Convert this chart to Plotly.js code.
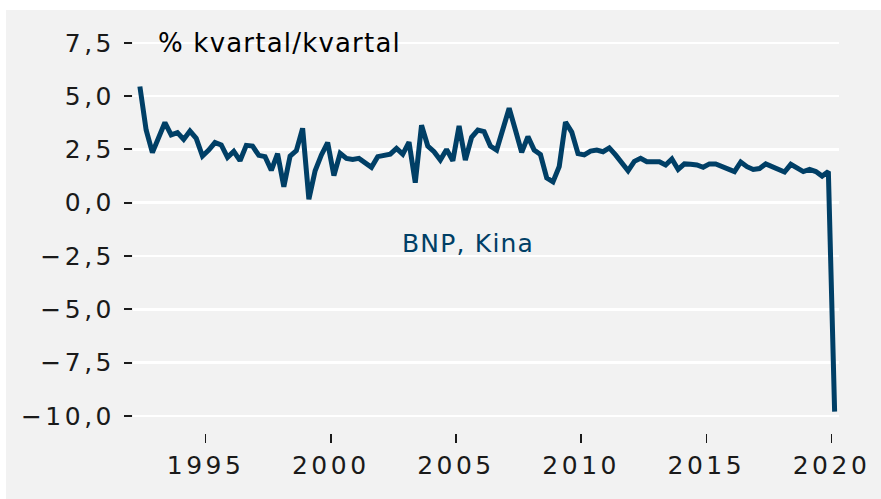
<!DOCTYPE html>
<html>
<head>
<meta charset="utf-8">
<script src="https://cdn.plot.ly/plotly-3.0.1.min.js"></script>
<style>
  html, body { margin: 0; padding: 0; background: #ffffff; width: 881px; height: 499px; overflow: hidden; }
  #chart { position: absolute; left: 6px; top: 10px; width: 875px; height: 489px; }
  .xtick text, .ytick text { letter-spacing: 3.5px; }
  .annotation-text { letter-spacing: 1.2px; }
</style>
</head>
<body>
<div id="chart"></div>
<script>
// Quarterly series: China GDP, % quarter on quarter, starting 1992 Q2
const startYear = 1992;
const startQuarter = 2;
const gdpQoQ = [
  5.45, 3.41, 2.35, 3.05, 3.76, 3.18, 3.29, 2.97, 3.36, 3.02,
  2.19, 2.47, 2.82, 2.71, 2.13, 2.41, 1.97, 2.69, 2.66, 2.22,
  2.16, 1.52, 2.30, 0.75, 2.19, 2.44, 3.49, 0.16, 1.50, 2.24,
  2.82, 1.27, 2.32, 2.08, 2.03, 2.08, 1.88, 1.66, 2.16, 2.22,
  2.28, 2.55, 2.28, 2.84, 0.94, 3.63, 2.66, 2.39, 2.00, 2.50,
  1.97, 3.60, 2.00, 3.07, 3.41, 3.33, 2.66, 2.47, 3.45, 4.43,
  3.41, 2.36, 3.10, 2.47, 2.26, 1.16, 0.98, 1.70, 3.78, 3.31,
  2.30, 2.24, 2.42, 2.47, 2.39, 2.57, 2.24, 1.88, 1.50, 1.94,
  2.08, 1.92, 1.92, 1.92, 1.77, 2.05, 1.56, 1.82, 1.80, 1.77,
  1.66, 1.82, 1.82, 1.72, 1.60, 1.46, 1.91, 1.69, 1.56, 1.60,
  1.82, 1.69, 1.56, 1.44, 1.80, 1.60, 1.46, 1.56, 1.46, 1.25,
  1.46, -9.8
];
const xTickYears = [1995, 2000, 2005, 2010, 2015, 2020];
const yTickValues = [-10, -7.5, -5, -2.5, 0, 2.5, 5, 7.5];
const seriesName = "BNP, Kina";
const unitLabel = "% kvartal/kvartal";

// Quarter index -> decimal year at mid-quarter
const xQuarter = gdpQoQ.map((_, i) => {
  const q0 = (startQuarter - 1) + i;
  const year = startYear + Math.floor(q0 / 4);
  const q = q0 % 4;
  return year + q * 0.25 + 0.125;
});

const lineColor = "#003f66";
const textColor = "#1a1a1a";
const tickFont = { family: "DejaVu Sans", size: 25, color: textColor };

const trace = {
  x: xQuarter,
  y: gdpQoQ,
  type: "scatter",
  mode: "lines",
  name: seriesName,
  line: { color: lineColor, width: 5, shape: "linear" },
  hoverinfo: "x+y"
};

const layout = {
  width: 875,
  height: 489,
  margin: { l: 127, r: 42, t: 20, b: 66 },
  paper_bgcolor: "#f2f2f2",
  plot_bgcolor: "#f2f2f2",
  separators: ",.",
  showlegend: false,
  xaxis: {
    range: [1992.1, 2020.3],
    tickvals: xTickYears,
    ticktext: xTickYears.map(String),
    ticks: "outside",
    ticklen: 9,
    tickwidth: 1.5,
    tickcolor: textColor,
    showgrid: false,
    zeroline: false,
    showline: false,
    tickfont: tickFont,
    ticklabelstandoff: 1
  },
  yaxis: {
    range: [-10.8, 8.1],
    tickvals: yTickValues,
    tickformat: ".1f",
    ticks: "outside",
    ticklen: 8,
    tickwidth: 2,
    tickcolor: textColor,
    showgrid: true,
    gridcolor: "#ffffff",
    gridwidth: 2.5,
    zeroline: false,
    showline: false,
    tickfont: tickFont,
    ticklabelstandoff: 4
  },
  annotations: [
    {
      text: unitLabel,
      xref: "paper", yref: "y",
      x: 0.033, y: 7.5,
      xanchor: "left", yanchor: "middle",
      showarrow: false,
      font: { family: "DejaVu Sans", size: 26, color: "#000000" }
    },
    {
      text: seriesName,
      xref: "x", yref: "y",
      x: 2005.5, y: -1.9,
      xanchor: "center", yanchor: "middle",
      showarrow: false,
      font: { family: "DejaVu Sans", size: 25, color: lineColor }
    }
  ]
};

Plotly.newPlot("chart", [trace], layout, { displayModeBar: false, staticPlot: true });
</script>
</body>
</html>
